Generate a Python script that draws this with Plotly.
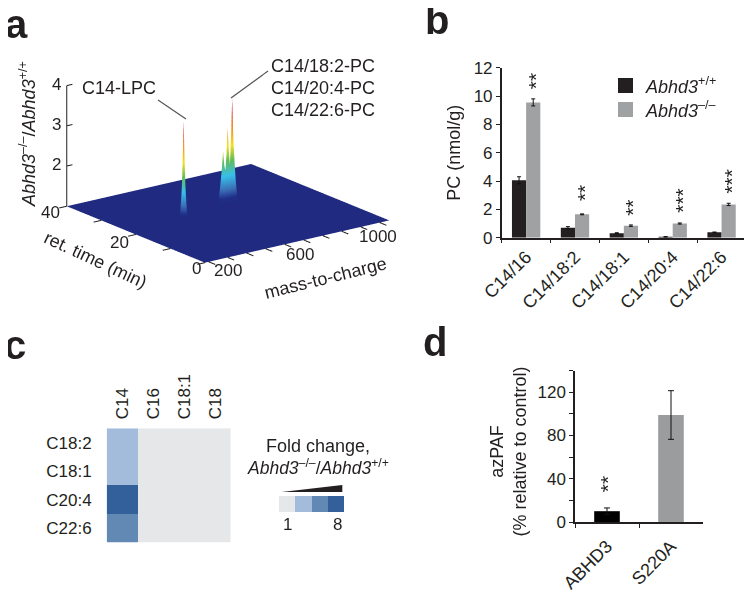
import plotly.graph_objects as go

PAGE = 8  # the page's own margin around the figure
W, H = 752 - PAGE, 593 - PAGE
FONT = "Liberation Sans"
INK = "#231f20"

# ---------- panel a data
mz_grid = [180, 454, 463, 468, 473, 482, 706, 724, 730, 736, 742, 748, 754, 760, 766, 772, 778, 784, 802, 1150]
rt_grid = [0, 21.3, 21.7, 22, 22.3, 22.7, 24.3, 24.7, 25, 25.3, 25.7, 40]
mz_ticks = [200, 300, 400, 500, 600, 700, 800, 900, 1000, 1100]
rt_ticks = [0, 10, 20, 30, 40]
z_ticks = [2, 3, 4]
lpc_patch = [
    [1.00, 1.00, 1.00, 1.00, 1.00],
    [1.00, 1.70, 2.30, 1.70, 1.00],
    [1.00, 2.30, 3.44, 2.30, 1.00],
    [1.00, 1.70, 2.30, 1.70, 1.00],
    [1.00, 1.00, 1.00, 1.00, 1.00],
]
pc_patch = [
    [1.00, 1.00, 1.00, 1.00, 1.00, 1.00, 1.00, 1.00, 1.00, 1.00, 1.00, 1.00, 1.00],
    [1.00, 1.40, 1.70, 1.55, 1.50, 1.60, 1.95, 1.70, 1.55, 1.85, 2.30, 1.80, 1.00],
    [1.00, 1.90, 2.30, 1.95, 1.80, 2.20, 2.85, 2.30, 1.90, 2.60, 3.56, 2.50, 1.00],
    [1.00, 1.40, 1.70, 1.55, 1.50, 1.60, 1.95, 1.70, 1.55, 1.85, 2.30, 1.80, 1.00],
    [1.00, 1.00, 1.00, 1.00, 1.00, 1.00, 1.00, 1.00, 1.00, 1.00, 1.00, 1.00, 1.00],
]
z_surface = [[1.0 for _ in mz_grid] for _ in rt_grid]
for i, row in enumerate(lpc_patch):
    for j, v in enumerate(row):
        z_surface[1 + i][1 + j] = v
for i, row in enumerate(pc_patch):
    for j, v in enumerate(row):
        z_surface[6 + i][6 + j] = v

# ---------- panel b data
b_categories = ["C14/16", "C14/18:2", "C14/18:1", "C14/20:4", "C14/22:6"]
b_wt = [4.05, 0.70, 0.32, 0.06, 0.38]
b_wt_err = [0.25, 0.08, 0.03, 0.02, 0.02]
b_ko = [9.55, 1.65, 0.85, 1.00, 2.35]
b_ko_err = [0.25, 0.03, 0.05, 0.04, 0.08]
b_stars = ["**", "**", "**", "***", "***"]
b_star_y = [11.05, 3.15, 2.10, 2.66, 4.00]

# ---------- panel c data
c_cols = ["C14", "C16", "C18:1", "C18"]
c_rows = ["C18:2", "C18:1", "C20:4", "C22:6"]
c_values = [[3, 1, 1, 1], [3, 1, 1, 1], [8, 1, 1, 1], [5, 1, 1, 1]]
c_key_levels = [1, 3, 5, 8]

# ---------- panel d data
d_categories = ["ABHD3", "S220A"]
d_values = [10, 99]
d_err = [3, 22.5]

WT_ABBR = "<i>Abhd3</i><sup>+/+</sup>"
KO_ABBR = "<i>Abhd3</i><sup>–/–</sup>"


def px(x):
    return (x - PAGE) / W


def py(y):
    return 1 - (y - PAGE) / H


def dx(a, b):
    return [px(a), px(b)]


def dy(top, bottom):
    return [py(bottom), py(top)]


fig = go.Figure()

# a: surface
jet = [
    [0.00, "#1f2a80"], [0.05, "#1f2f88"], [0.13, "#3b6db5"], [0.26, "#38bfe9"],
    [0.40, "#62bd58"], [0.54, "#f4e01f"], [0.72, "#f08a24"], [0.85, "#d8322a"], [1.00, "#a52a2a"],
]
no_line = dict(show=False, highlight=False)
fig.add_trace(go.Surface(
    x=mz_grid, y=rt_grid, z=z_surface, cmin=1, cmax=3.6, colorscale=jet, showscale=False,
    lighting=dict(ambient=1, diffuse=0, specular=0, roughness=1, fresnel=0),
    contours=dict(x=no_line, y=no_line, z=no_line),
    hoverinfo="skip", scene="scene",
))

# a: axis line and tick marks of the 3D box
MZ0, RT0 = mz_grid[0], rt_grid[0]
RT1 = rt_grid[-1]
lx, ly, lz = [MZ0, MZ0, None], [RT1, RT1, None], [1, 4, None]
for t in z_ticks:
    lx += [MZ0, MZ0 + 30, None]
    ly += [RT1, RT1, None]
    lz += [t, t, None]
for t in mz_ticks:
    lx += [t, t, None]
    ly += [RT0, RT0 - 1.9, None]
    lz += [1, 1, None]
for t in rt_ticks:
    lx += [MZ0, MZ0 - 40, None]
    ly += [t, t, None]
    lz += [1, 1, None]
fig.add_trace(go.Scatter3d(x=lx, y=ly, z=lz, mode="lines", line=dict(color=INK, width=2),
                           hoverinfo="skip", showlegend=False, scene="scene"))


def scene_ax(rng):
    return dict(range=rng, title=dict(text=""), showgrid=False, zeroline=False, showbackground=False,
                showspikes=False, showticklabels=False, ticks="", showline=False)


def tick3(x, y, z, t, xs, ys):
    return dict(x=x, y=y, z=z, text=t, showarrow=False, xshift=xs, yshift=ys,
                font=dict(family=FONT, size=17, color=INK))


scene_ann = [
    tick3(MZ0, 40, 4, "4", -10, 1), tick3(MZ0, 40, 3, "3", -10, 1), tick3(MZ0, 40, 2, "2", -10, 2),
    tick3(MZ0, 40, 1, "40", -16, -6), tick3(MZ0, 20, 1, "20", -16, -8), tick3(MZ0, 0, 1, "0", -8, -6),
    tick3(200, 0, 1, "200", 19, -9), tick3(600, 0, 1, "600", 15, -10), tick3(1000, 0, 1, "1000", 17, -10),
]
ZOOM = 1.92 * 1.103
fig.update_layout(scene=dict(
    domain=dict(x=dx(28, 428), y=dy(33, 273)),
    xaxis=scene_ax([130, 1200]),
    yaxis=scene_ax([-2.06, 42.06]),
    zaxis=scene_ax([0.98, 4.02]),
    aspectmode="manual", aspectratio=dict(x=ZOOM, y=ZOOM, z=1.07),
    camera=dict(projection=dict(type="orthographic"),
                eye=dict(x=-0.571 * 2.5, y=-0.762 * 2.5, z=0.306 * 2.5),
                up=dict(x=0, y=0, z=1), center=dict(x=0, y=0, z=0)),
    annotations=scene_ann,
    bgcolor="white",
))

# b: bars
fig.add_trace(go.Bar(x=b_categories, y=b_wt, name="Abhd3+/+", marker_color="#231f20", marker_line_width=0,
                     error_y=dict(type="data", array=b_wt_err, color="#111", thickness=1, width=2),
                     xaxis="x", yaxis="y", showlegend=False, offsetgroup="wt"))
fig.add_trace(go.Bar(x=b_categories, y=b_ko, name="Abhd3-/-", marker_color="#a0a1a3", marker_line_width=0,
                     error_y=dict(type="data", array=b_ko_err, color="#111", thickness=1, width=2),
                     xaxis="x", yaxis="y", showlegend=False, offsetgroup="ko"))

# c: heatmaps
cmap = [[0, "#e6e7e8"], [0.14, "#e6e7e8"], [0.15, "#a3bcdc"], [0.43, "#a3bcdc"], [0.44, "#6288b4"],
        [0.71, "#6288b4"], [0.72, "#335f9a"], [1, "#335f9a"]]
fig.add_trace(go.Heatmap(x=c_cols, y=c_rows, z=c_values, zmin=1, zmax=8, colorscale=cmap, showscale=False,
                         xaxis="x2", yaxis="y2", hoverinfo="skip"))
fig.add_trace(go.Heatmap(x=[str(v) for v in c_key_levels], y=["key"], z=[c_key_levels], zmin=1, zmax=8,
                         colorscale=cmap, showscale=False, xaxis="x3", yaxis="y3", hoverinfo="skip"))

# d: bars
fig.add_trace(go.Bar(x=d_categories, y=d_values, marker_color=["#000000", "#9b9c9e"], marker_line_width=0,
                     width=0.4,
                     error_y=dict(type="data", array=d_err, color="#111", thickness=1, width=3),
                     xaxis="x4", yaxis="y4", showlegend=False))

tickfont = dict(family=FONT, size=17, color=INK)
cat_ax = dict(type="category", tickson="boundaries", ticks="outside", ticklen=4, tickcolor=INK,
              showline=True, linecolor=INK, linewidth=1.5, tickwidth=1, tickangle=-45,
              tickfont=dict(family=FONT, size=18, color=INK),
              showgrid=False, zeroline=False, automargin=False)
val_ax = dict(ticks="outside", ticklen=4, tickcolor=INK, showline=True, linecolor=INK, linewidth=1.5, tickwidth=1,
              tickfont=tickfont, showgrid=False, zeroline=False, automargin=False)

fig.update_layout(
    xaxis=dict(cat_ax, domain=dx(501.7, 746), anchor="y"),
    yaxis=dict(val_ax, domain=dy(67.7, 237.7), range=[0, 12], tickvals=[0, 2, 4, 6, 8, 10, 12], anchor="x",
               title=dict(text="PC (nmol/g)", font=dict(family=FONT, size=18, color=INK), standoff=8)),
    xaxis2=dict(domain=dx(106.7, 230.7), anchor="y2", side="top", tickangle=-90, ticks="", showline=False,
                tickfont=tickfont, type="category", automargin=False, showgrid=False, zeroline=False,
                ticklabelstandoff=8),
    yaxis2=dict(domain=dy(428.3, 542.7), anchor="x2", autorange="reversed", ticks="", showline=False,
                tickfont=tickfont, type="category", automargin=False, showgrid=False, zeroline=False,
                ticklabelstandoff=14),
    xaxis3=dict(domain=dx(279, 344.3), anchor="y3", visible=False, type="category"),
    yaxis3=dict(domain=dy(496, 512), anchor="x3", visible=False, type="category"),
    xaxis4=dict(cat_ax, domain=dx(575, 703), anchor="y4", ticklabelstandoff=5),
    yaxis4=dict(val_ax, domain=dy(370.7, 522), range=[0, 140], anchor="x4",
                tickvals=[0, 20, 40, 60, 80, 100, 120, 140],
                ticktext=["0", "", "40", "", "80", "", "120", ""]),
    barmode="group", bargap=0.42, bargroupgap=0,
    width=W, height=H, margin=dict(l=0, r=0, t=0, b=0),
    paper_bgcolor="white", plot_bgcolor="white", showlegend=False,
    font=dict(family=FONT, color=INK),
)


def note(x, y, t, size=17, angle=0, bold=False, anchor="center"):
    return dict(xref="paper", yref="paper", x=px(x), y=py(y), text=f"<b>{t}</b>" if bold else t, showarrow=False,
                textangle=angle, xanchor=anchor, yanchor="middle", font=dict(family=FONT, size=size, color=INK))


anns = [
    note(16, 24, "a", 40, bold=True), note(437, 20, "b", 40, bold=True),
    note(15, 345, "c", 40, bold=True), note(435, 342, "d", 40, bold=True),
    note(27, 134, f"{KO_ABBR}/{WT_ABBR}", 18, -90),
    note(119, 88, "C14-LPC", 18),
    note(323, 66, "C14/18:2-PC", 18), note(323, 88, "C14/20:4-PC", 18), note(323, 110, "C14/22:6-PC", 18),
    note(95.7, 260, "ret. time (min)", 18, 25),
    note(325.7, 278, "mass-to-charge", 18, -14),
    note(643, 85.5, WT_ABBR, 18, anchor="left"), note(643, 109.5, KO_ABBR, 18, anchor="left"),
    note(317.5, 446, "Fold change,", 18),
    note(317.5, 467, f"{KO_ABBR}/{WT_ABBR}", 17.5),
    note(287, 524, "1", 17), note(337, 524, "8", 17),
    note(507.5, 452, "azPAF<br>(% relative to control)", 18, -90),
]
for c, s, y in zip(b_categories, b_stars, b_star_y):
    anns.append(dict(xref="x", yref="y", x=c, y=y, text=s, showarrow=False, textangle=-90, xshift=9,
                     font=dict(family=FONT, size=21, color=INK)))
anns.append(dict(xref="x4", yref="y4", x="ABHD3", y=35, text="**", showarrow=False, textangle=-90,
                 font=dict(family=FONT, size=21, color=INK)))

shapes = [
    dict(type="line", xref="paper", yref="paper", x0=px(158), y0=py(100), x1=px(186), y1=py(119),
         line=dict(color="#555555", width=1.2)),
    dict(type="line", xref="paper", yref="paper", x0=px(268), y0=py(71), x1=px(231), y1=py(98),
         line=dict(color="#555555", width=1.2)),
    dict(type="rect", xref="paper", yref="paper", x0=px(618), x1=px(633), y0=py(78), y1=py(93),
         fillcolor="#231f20", line_width=0),
    dict(type="rect", xref="paper", yref="paper", x0=px(618), x1=px(633), y0=py(102), y1=py(117),
         fillcolor="#a0a1a3", line_width=0),
    dict(type="path", xref="paper", yref="paper", fillcolor="#231f20", line_width=0,
         path=f"M {px(281.7)} {py(492)} L {px(342.3)} {py(485)} L {px(342.3)} {py(492)} Z"),
]
fig.update_layout(annotations=anns, shapes=shapes)

fig.write_html("out.html")
